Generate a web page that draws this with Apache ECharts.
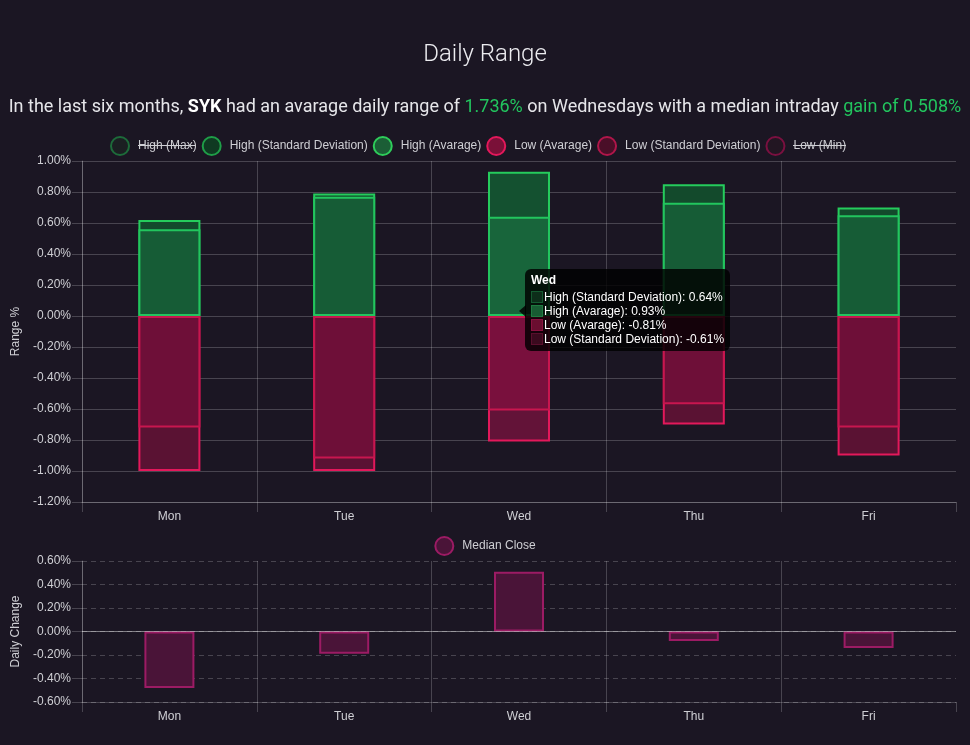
<!DOCTYPE html>
<html>
<head>
<meta charset="utf-8">
<script src="https://cdn.jsdelivr.net/npm/echarts@6/dist/echarts.min.js"></script>
<style>
  html, body { margin: 0; padding: 0; background: #1b1623; }
  #chart { width: 970px; height: 745px; }
</style>
</head>
<body>
<div id="chart"></div>
<script>
const days = ['Mon', 'Tue', 'Wed', 'Thu', 'Fri'];
const highMax = [];
const highStd = [0.56, 0.77, 0.64, 0.73, 0.65];
const highAvg = [0.62, 0.79, 0.93, 0.85, 0.70];
const lowAvg = [-1.00, -1.00, -0.81, -0.70, -0.90];
const lowStd = [-0.72, -0.92, -0.61, -0.57, -0.72];
const lowMin = [];
const medianClose = [-0.48, -0.19, 0.508, -0.08, -0.14];
const rangeTicks = { min: -1.2, max: 1.0, interval: 0.2 };
const changeTicks = { min: -0.6, max: 0.6, interval: 0.2 };

const gridColor = 'rgba(255,255,255,0.2)';
const labelColor = '#cfcfd4';
const fontFam = '"Liberation Sans", Arial, Helvetica, sans-serif';
const pct = v => v.toFixed(2) + '%';

const styles = {
  'High (Max)': { legend: { color: '#1b1f22', borderColor: '#1d6b3a' }, tip: null },
  'High (Standard Deviation)': { legend: { color: '#0f3a22', borderColor: '#1f9e48' }, bar: { color: '#165c36', borderColor: '#22c55e' }, tip: ['#0d2e1a', '#145a30'] },
  'High (Avarage)': { legend: { color: '#1b5e36', borderColor: '#2ecc5a' }, bar: { color: '#134a2c', borderColor: '#25cc5c' }, tip: ['#185c33', '#1f7a40'] },
  'Low (Avarage)': { legend: { color: '#7a1038', borderColor: '#e3185b' }, bar: { color: '#5a1233', borderColor: '#e3185b' }, tip: ['#6a0e30', '#8a1240'] },
  'Low (Standard Deviation)': { legend: { color: '#4a0f28', borderColor: '#b0164a' }, bar: { color: '#6e0f38', borderColor: '#c8164f' }, tip: ['#3a0a1e', '#5a0e2c'] },
  'Low (Min)': { legend: { color: '#221622', borderColor: '#7a1040' }, tip: null }
};

function barSeries(name, data, z) {
  const s = styles[name];
  return {
    name, type: 'bar', data, xAxisIndex: 0, yAxisIndex: 0,
    barWidth: 62, barGap: '-100%', z,
    itemStyle: s.bar ? { color: s.bar.color, borderColor: s.bar.borderColor, borderWidth: 2 } : { color: s.legend.color, borderColor: s.legend.borderColor, borderWidth: 2 }
  };
}

const chart = echarts.init(document.getElementById('chart'));
const option = {
  backgroundColor: '#1b1623',
  animation: false,
  textStyle: { fontFamily: fontFam },
  title: [
    { text: 'Daily Range', left: 'center', top: 43, padding: 0,
      textStyle: { fontFamily: 'Roboto', fontWeight: 300, fontSize: 24, color: '#ececf0' } },
    { text: '{n|In the last six months, }{b|SYK}{n| had an avarage daily range of }{g|1.736%}{n| on Wednesdays with a median intraday }{g|gain of 0.508%}',
      left: 'center', top: 98, padding: 0,
      textStyle: { fontWeight: 'normal', rich: {
        n: { fontFamily: 'Roboto', fontSize: 18, fontWeight: 'normal', color: '#e6e6ea' },
        b: { fontFamily: 'Roboto', fontSize: 18, fontWeight: 'bold', color: '#ffffff' },
        g: { fontFamily: 'Roboto', fontSize: 18, fontWeight: 'normal', color: '#22c55e' }
      } } }
  ],
  legend: [
    { top: 136, left: 110, padding: 0, itemWidth: 26, itemHeight: 18, itemGap: 5,
      textStyle: { color: labelColor, fontSize: 12, fontFamily: fontFam },
      selectedMode: false,
      data: Object.keys(styles).map(n => ({ name: n, icon: 'circle',
        itemStyle: { color: styles[n].legend.color, borderColor: styles[n].legend.borderColor, borderWidth: 2 } })) },
    { top: 536, left: 'center', padding: 0, itemWidth: 26, itemHeight: 18,
      textStyle: { color: labelColor, fontSize: 12, fontFamily: fontFam },
      selectedMode: false,
      data: [{ name: 'Median Close', icon: 'circle', itemStyle: { color: '#4a1438', borderColor: '#9c1b64', borderWidth: 2 } }] }
  ],
  grid: [
    { left: 82, right: 14, top: 161, bottom: 243 },
    { left: 82, right: 14, top: 561, bottom: 43 }
  ],
  xAxis: [0, 1].map(i => ({
    type: 'category', data: days, gridIndex: i,
    axisLine: { show: true, onZero: false, lineStyle: { color: gridColor } },
    axisTick: { show: true, length: 10, lineStyle: { color: gridColor } },
    axisLabel: { color: labelColor, fontSize: 12, margin: 9 },
    splitLine: { show: true, showMaxLine: false, lineStyle: { color: gridColor } }
  })),
  yAxis: [
    { type: 'value', gridIndex: 0, min: rangeTicks.min, max: rangeTicks.max, interval: rangeTicks.interval,
      name: 'Range %', nameLocation: 'middle', nameGap: 59, nameRotate: 90,
      nameTextStyle: { color: labelColor, fontSize: 12 },
      axisLine: { show: true, lineStyle: { color: gridColor } },
      axisTick: { show: true, length: 10, lineStyle: { color: gridColor } },
      axisLabel: { color: labelColor, fontSize: 12, margin: 11, formatter: pct },
      splitLine: { show: true, lineStyle: { color: gridColor } } },
    { type: 'value', gridIndex: 1, min: changeTicks.min, max: changeTicks.max, interval: changeTicks.interval,
      name: 'Daily Change', nameLocation: 'middle', nameGap: 59, nameRotate: 90,
      nameTextStyle: { color: labelColor, fontSize: 12 },
      axisLine: { show: true, lineStyle: { color: gridColor } },
      axisTick: { show: true, length: 10, lineStyle: { color: gridColor } },
      axisLabel: { color: labelColor, fontSize: 12, margin: 11, formatter: pct },
      splitLine: { show: true, lineStyle: { color: gridColor, type: [5, 4] } } }
  ],
  tooltip: {
    trigger: 'axis', triggerOn: 'none', alwaysShowContent: true, transitionDuration: 0,
    axisPointer: { type: 'none' },
    backgroundColor: 'rgba(0,0,0,0.82)', borderWidth: 0, borderRadius: 6, padding: [3, 6, 5, 6],
    extraCssText: 'box-shadow:none;',
    textStyle: { color: '#fff', fontSize: 12, fontFamily: fontFam },
    position: [525, 269],
    formatter: params => {
      const rows = params.filter(p => p.value != null && p.value !== '' && styles[p.seriesName] && styles[p.seriesName].tip);
      let h = '<div style="font-weight:bold;line-height:16px;margin-bottom:2px">' + (rows[0] ? rows[0].axisValue : '') + '</div>';
      rows.forEach(p => {
        const t = styles[p.seriesName].tip;
        h += '<div style="line-height:14px;white-space:nowrap"><span style="display:inline-block;box-sizing:border-box;width:12px;height:12px;background:' + t[0] + ';border:1px solid ' + t[1] + ';vertical-align:-2px;margin-right:1px"></span>' + p.seriesName + ': ' + pct(p.value) + '</div>';
      });
      return h;
    }
  },
  graphic: [
    { type: 'polygon', silent: true, z: 100, shape: { points: [[526, 305], [519, 311], [526, 317]] }, style: { fill: 'rgba(0,0,0,0.82)' } },
    { type: 'line', silent: true, z: 100, shape: { x1: 138, y1: 145.5, x2: 196, y2: 145.5 }, style: { stroke: labelColor, lineWidth: 1 } },
    { type: 'line', silent: true, z: 100, shape: { x1: 793, y1: 145.5, x2: 846, y2: 145.5 }, style: { stroke: labelColor, lineWidth: 1 } }
  ],
  series: [
    barSeries('High (Max)', highMax, 1),
    barSeries('High (Standard Deviation)', highStd, 4),
    barSeries('High (Avarage)', highAvg, 3),
    barSeries('Low (Avarage)', lowAvg, 3),
    barSeries('Low (Standard Deviation)', lowStd, 4),
    barSeries('Low (Min)', lowMin, 1),
    { name: 'Median Close', type: 'bar', data: medianClose, xAxisIndex: 1, yAxisIndex: 1,
      barWidth: 50, itemStyle: { color: '#4a1438', borderColor: '#9c1b64', borderWidth: 2 },
      markLine: { silent: true, symbol: 'none', label: { show: false },
        lineStyle: { color: 'rgba(255,255,255,0.45)', type: 'solid', width: 1 },
        data: [{ yAxis: 0 }] } }
  ]
};
chart.setOption(option);
chart.dispatchAction({ type: 'showTip', seriesIndex: 2, dataIndex: 2 });
</script>
</body>
</html>
